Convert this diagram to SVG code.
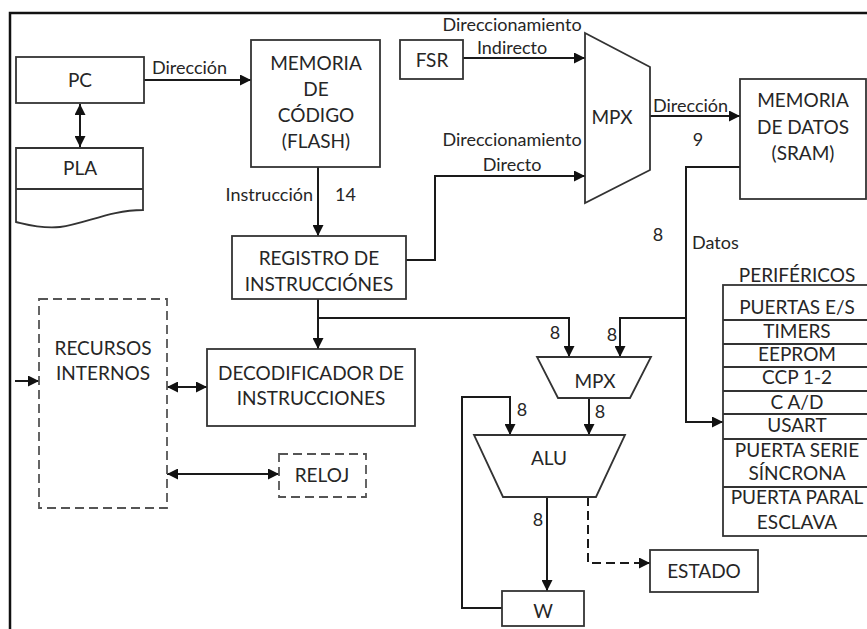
<svg xmlns="http://www.w3.org/2000/svg" width="867" height="629" viewBox="0 0 867 629">
  <style>
    .box { fill: #fff; stroke: #333; stroke-width: 1.8; }
    .dash { fill: #fff; stroke: #555; stroke-width: 1.8; stroke-dasharray: 9 5; }
    .wire { fill: none; stroke: #1a1a1a; stroke-width: 2; }
    .dwire { fill: none; stroke: #1a1a1a; stroke-width: 2; stroke-dasharray: 9 5; }
    .arr { marker-end: url(#ah); }
    .both { marker-start: url(#ah); marker-end: url(#ah); }
    text { font-family: Lato, "Liberation Sans", sans-serif; fill: #262626; }
    .t { font-size: 19px; text-anchor: middle; }
    .l { font-size: 18px; }
    .lc { font-size: 18px; text-anchor: middle; }
  </style>
  <defs>
    <marker id="ah" viewBox="0 0 10 10" refX="10" refY="5" markerWidth="11" markerHeight="11" markerUnits="userSpaceOnUse" orient="auto-start-reverse">
      <path d="M0,0 L10,5 L0,10 z" fill="#111"/>
    </marker>
  </defs>
  <rect width="867" height="629" fill="#fff"/>
  <!-- frame edges -->
  <path d="M10,629 L10,13 L867,13" fill="none" stroke="#111" stroke-width="2.5"/>

  <g id="connectors">
    <line class="wire both" x1="80" y1="104" x2="80" y2="147"/>
    <line class="wire arr" x1="144" y1="80" x2="251" y2="80"/>
    <line class="wire arr" x1="318" y1="167" x2="318" y2="236"/>
    <line class="wire arr" x1="463" y1="58" x2="585" y2="58"/>
    <polyline class="wire arr" points="406,260 435,260 435,176 585,176"/>
    <line class="wire arr" x1="650" y1="116" x2="740" y2="116"/>
    <polyline class="wire arr" points="740,167 686,167 686,422 723,422"/>
    <polyline class="wire arr" points="686,318 620,318 620,357"/>
    <line class="wire arr" x1="318" y1="299" x2="318" y2="349"/>
    <polyline class="wire arr" points="318,318 569,318 569,357"/>
    <line class="wire arr" x1="15" y1="381" x2="39" y2="381"/>
    <line class="wire both" x1="167" y1="387" x2="207" y2="387"/>
    <line class="wire both" x1="167" y1="474" x2="279" y2="474"/>
    <line class="wire arr" x1="589" y1="398" x2="589" y2="435"/>
    <polyline class="wire arr" points="502,608 462,608 462,397 510,397 510,435"/>
    <line class="wire arr" x1="547" y1="497" x2="547" y2="591"/>
    <polyline class="dwire arr" points="588,497 588,563 650,563"/>
  </g>

  <g id="pc">
    <rect class="box" x="16" y="57" width="128" height="46"/>
    <text class="t" x="80" y="87">PC</text>
  </g>
  <g id="pla">
    <path class="box" d="M16,148 L143,148 L143,210 C110,210 85,224 60,227 C40,229 25,224 16,222 Z"/>
    <line x1="16" y1="189" x2="143" y2="189" stroke="#333" stroke-width="1.8"/>
    <text class="t" x="80" y="175">PLA</text>
  </g>
  <g id="label-direccion-pc">
    <text class="l" x="152" y="74">Dirección</text>
  </g>
  <g id="memoria-codigo">
    <rect class="box" x="251" y="40" width="129" height="127"/>
    <text class="t" x="316" y="70">MEMORIA</text>
    <text class="t" x="316" y="96">DE</text>
    <text class="t" x="316" y="122">CÓDIGO</text>
    <text class="t" x="316" y="148">(FLASH)</text>
  </g>
  <g id="label-instruccion">
    <text class="l" x="313" y="201" text-anchor="end">Instrucción</text>
    <text class="l" x="335" y="201">14</text>
  </g>
  <g id="fsr">
    <rect class="box" x="400" y="40" width="63" height="39"/>
    <text class="t" x="432" y="67">FSR</text>
  </g>
  <g id="label-indirecto">
    <text class="lc" x="512" y="31">Direccionamiento</text>
    <text class="lc" x="512" y="54">Indirecto</text>
  </g>
  <g id="label-directo">
    <text class="lc" x="512" y="146">Direccionamiento</text>
    <text class="lc" x="512" y="171">Directo</text>
  </g>
  <g id="mpx-dir">
    <polygon class="box" points="585,33 650,67 650,170 585,203"/>
    <text class="t" x="612" y="124">MPX</text>
  </g>
  <g id="label-direccion-ram">
    <text class="l" x="653" y="112">Dirección</text>
    <text class="l" x="698" y="146" text-anchor="middle">9</text>
  </g>
  <g id="memoria-datos">
    <rect class="box" x="740" y="79" width="126" height="120"/>
    <text class="t" x="803" y="107">MEMORIA</text>
    <text class="t" x="803" y="134">DE DATOS</text>
    <text class="t" x="803" y="160">(SRAM)</text>
  </g>
  <g id="registro">
    <rect class="box" x="232" y="236" width="174" height="63"/>
    <text class="t" x="319" y="265">REGISTRO DE</text>
    <text class="t" x="319" y="291">INSTRUCCIÓNES</text>
  </g>
  <g id="label-datos">
    <text class="l" x="658" y="241" text-anchor="middle">8</text>
    <text class="l" x="692" y="249">Datos</text>
  </g>
  <g id="perifericos">
    <text class="t" x="797" y="282">PERIFÉRICOS</text>
    <rect class="box" x="723" y="285" width="160" height="251"/>
    <path d="M723,320 H867 M723,344 H867 M723,367 H867 M723,391 H867 M723,414 H867 M723,439 H867 M723,487 H867" stroke="#333" stroke-width="1.8"/>
    <text class="t" x="797" y="314">PUERTAS E/S</text>
    <text class="t" x="797" y="338">TIMERS</text>
    <text class="t" x="797" y="361">EEPROM</text>
    <text class="t" x="797" y="384">CCP 1-2</text>
    <text class="t" x="797" y="409">C A/D</text>
    <text class="t" x="797" y="432">USART</text>
    <text class="t" x="797" y="457">PUERTA SERIE</text>
    <text class="t" x="797" y="480">SÍNCRONA</text>
    <text class="t" x="797" y="504">PUERTA PARAL</text>
    <text class="t" x="797" y="529">ESCLAVA</text>
  </g>
  <g id="recursos">
    <rect class="dash" x="39" y="299" width="128" height="209"/>
    <text class="t" x="103" y="355">RECURSOS</text>
    <text class="t" x="103" y="380">INTERNOS</text>
  </g>
  <g id="decodificador">
    <rect class="box" x="207" y="349" width="208" height="77"/>
    <text class="t" x="311" y="380">DECODIFICADOR DE</text>
    <text class="t" x="311" y="405">INSTRUCCIONES</text>
  </g>
  <g id="reloj">
    <rect class="dash" x="279" y="454" width="87" height="43"/>
    <text class="t" x="322" y="482">RELOJ</text>
  </g>
  <g id="mpx-alu">
    <polygon class="box" points="537,357 651,357 630,398 558,398"/>
    <text class="t" x="595" y="388">MPX</text>
    <text class="l" x="555" y="339" text-anchor="middle">8</text>
    <text class="l" x="612" y="341" text-anchor="middle">8</text>
  </g>
  <g id="alu">
    <polygon class="box" points="474,435 625,435 596,497 503,497"/>
    <text class="t" x="549" y="465">ALU</text>
    <text class="l" x="600" y="418" text-anchor="middle">8</text>
    <text class="l" x="522" y="416" text-anchor="middle">8</text>
    <text class="l" x="538" y="526" text-anchor="middle">8</text>
  </g>
  <g id="estado">
    <rect class="box" x="650" y="550" width="108" height="42"/>
    <text class="t" x="704" y="578">ESTADO</text>
  </g>
  <g id="w">
    <rect class="box" x="502" y="591" width="82" height="35"/>
    <text class="t" x="543" y="618">W</text>
  </g>
</svg>
